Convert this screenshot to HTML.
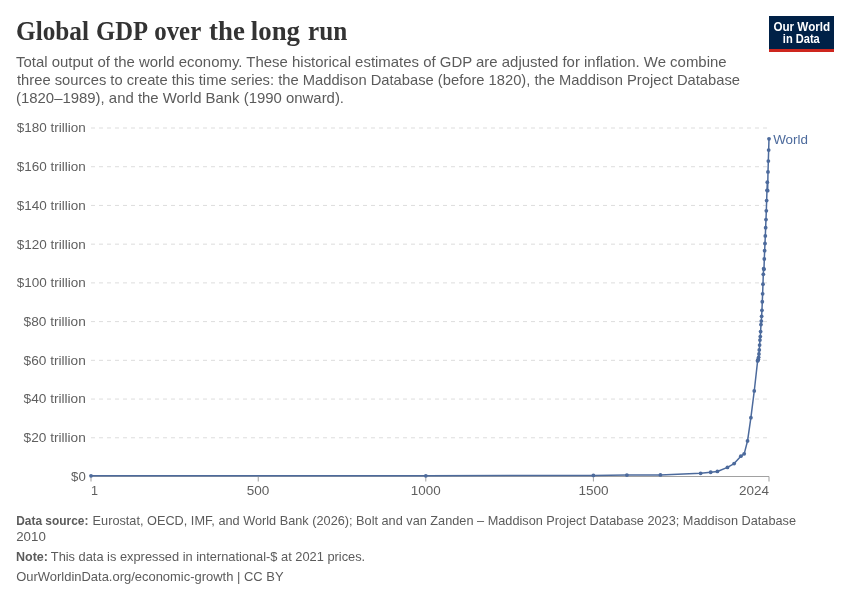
<!DOCTYPE html>
<html><head><meta charset="utf-8">
<style>
html,body{margin:0;padding:0;background:#fff;width:850px;height:600px;overflow:hidden}
svg{position:absolute;left:0;top:0;will-change:transform}
text{font-family:"Liberation Sans",sans-serif}
.title{font-family:"Liberation Serif",serif;font-weight:700;font-size:28px;fill:#333}
.sub{font-size:14.5px;fill:#5b5b5b}
.logo{font-size:12px;font-weight:700;fill:#fff}
.ax{font-size:13.5px;fill:#5f5f5f}
.world{font-size:13.5px;fill:#4c6a9c}
.f{font-size:12.4px;fill:#5b5b5b}
.fb{font-size:12.4px;font-weight:700;fill:#5b5b5b}
</style></head><body>
<svg width="850" height="600" viewBox="0 0 850 600">
<rect width="850" height="600" fill="#fff"/>
<rect x="769" y="16" width="65" height="36" fill="#002147"/>
<rect x="769" y="49" width="65" height="3" fill="#ce261e"/>
<g stroke="#dddddd" stroke-width="1" stroke-dasharray="4,4"><line x1="91" x2="769" y1="437.78" y2="437.78"/><line x1="91" x2="769" y1="399.06" y2="399.06"/><line x1="91" x2="769" y1="360.33" y2="360.33"/><line x1="91" x2="769" y1="321.61" y2="321.61"/><line x1="91" x2="769" y1="282.89" y2="282.89"/><line x1="91" x2="769" y1="244.17" y2="244.17"/><line x1="91" x2="769" y1="205.45" y2="205.45"/><line x1="91" x2="769" y1="166.72" y2="166.72"/><line x1="91" x2="769" y1="128.00" y2="128.00"/></g>
<line x1="91" x2="769" y1="476.5" y2="476.5" stroke="#a1a1a1" stroke-width="1"/>
<g stroke="#a1a1a1" stroke-width="1"><line x1="91.00" x2="91.00" y1="476.5" y2="481.5"/><line x1="258.24" x2="258.24" y1="476.5" y2="481.5"/><line x1="425.81" x2="425.81" y1="476.5" y2="481.5"/><line x1="593.38" x2="593.38" y1="476.5" y2="481.5"/><line x1="769.00" x2="769.00" y1="476.5" y2="481.5"/></g>
<path d="M91.00,475.87 L425.81,475.82 L593.38,475.41 L626.90,475.10 L660.41,474.91 L700.63,473.30 L710.68,472.24 L717.39,471.46 L727.44,467.40 L734.14,463.53 L740.85,456.18 L744.20,453.85 L747.55,440.89 L750.90,417.67 L754.25,390.97 L757.61,360.97 L757.94,360.20 L758.28,359.23 L758.61,357.30 L758.95,354.01 L759.28,349.94 L759.62,345.11 L759.95,340.08 L760.29,336.59 L760.62,331.56 L760.96,324.60 L761.29,321.11 L761.63,316.28 L761.96,310.28 L762.30,301.76 L762.63,293.83 L762.97,284.15 L763.30,274.29 L763.64,268.67 L763.97,269.25 L764.31,259.00 L764.64,250.68 L764.98,243.52 L765.31,235.97 L765.65,227.65 L765.98,219.53 L766.32,210.82 L766.65,200.56 L766.99,190.31 L767.32,182.18 L767.66,190.69 L767.99,171.92 L768.33,161.09 L768.66,150.06 L769.00,138.84" fill="none" stroke="#4c6a9c" stroke-width="1.5" stroke-linejoin="round"/>
<g fill="#4c6a9c"><circle cx="91.00" cy="475.87" r="1.9"/><circle cx="425.81" cy="475.82" r="1.9"/><circle cx="593.38" cy="475.41" r="1.9"/><circle cx="626.90" cy="475.10" r="1.9"/><circle cx="660.41" cy="474.91" r="1.9"/><circle cx="700.63" cy="473.30" r="1.9"/><circle cx="710.68" cy="472.24" r="1.9"/><circle cx="717.39" cy="471.46" r="1.9"/><circle cx="727.44" cy="467.40" r="1.9"/><circle cx="734.14" cy="463.53" r="1.9"/><circle cx="740.85" cy="456.18" r="1.9"/><circle cx="744.20" cy="453.85" r="1.9"/><circle cx="747.55" cy="440.89" r="1.9"/><circle cx="750.90" cy="417.67" r="1.9"/><circle cx="754.25" cy="390.97" r="1.9"/><circle cx="757.61" cy="360.97" r="1.9"/><circle cx="757.94" cy="360.20" r="1.9"/><circle cx="758.28" cy="359.23" r="1.9"/><circle cx="758.61" cy="357.30" r="1.9"/><circle cx="758.95" cy="354.01" r="1.9"/><circle cx="759.28" cy="349.94" r="1.9"/><circle cx="759.62" cy="345.11" r="1.9"/><circle cx="759.95" cy="340.08" r="1.9"/><circle cx="760.29" cy="336.59" r="1.9"/><circle cx="760.62" cy="331.56" r="1.9"/><circle cx="760.96" cy="324.60" r="1.9"/><circle cx="761.29" cy="321.11" r="1.9"/><circle cx="761.63" cy="316.28" r="1.9"/><circle cx="761.96" cy="310.28" r="1.9"/><circle cx="762.30" cy="301.76" r="1.9"/><circle cx="762.63" cy="293.83" r="1.9"/><circle cx="762.97" cy="284.15" r="1.9"/><circle cx="763.30" cy="274.29" r="1.9"/><circle cx="763.64" cy="268.67" r="1.9"/><circle cx="763.97" cy="269.25" r="1.9"/><circle cx="764.31" cy="259.00" r="1.9"/><circle cx="764.64" cy="250.68" r="1.9"/><circle cx="764.98" cy="243.52" r="1.9"/><circle cx="765.31" cy="235.97" r="1.9"/><circle cx="765.65" cy="227.65" r="1.9"/><circle cx="765.98" cy="219.53" r="1.9"/><circle cx="766.32" cy="210.82" r="1.9"/><circle cx="766.65" cy="200.56" r="1.9"/><circle cx="766.99" cy="190.31" r="1.9"/><circle cx="767.32" cy="182.18" r="1.9"/><circle cx="767.66" cy="190.69" r="1.9"/><circle cx="767.99" cy="171.92" r="1.9"/><circle cx="768.33" cy="161.09" r="1.9"/><circle cx="768.66" cy="150.06" r="1.9"/><circle cx="769.00" cy="138.84" r="1.9"/></g>
<text class="title" x="16.00" y="40.4" textLength="73.00" lengthAdjust="spacingAndGlyphs">Global</text>
<text class="title" x="96.00" y="40.4" textLength="52.00" lengthAdjust="spacingAndGlyphs">GDP</text>
<text class="title" x="154.20" y="40.4" textLength="47.00" lengthAdjust="spacingAndGlyphs">over</text>
<text class="title" x="209.00" y="40.4" textLength="35.80" lengthAdjust="spacingAndGlyphs">the</text>
<text class="title" x="250.80" y="40.4" textLength="49.20" lengthAdjust="spacingAndGlyphs">long</text>
<text class="title" x="308.00" y="40.4" textLength="39.20" lengthAdjust="spacingAndGlyphs">run</text>
<text class="sub" x="16.00" y="66.7" textLength="710.60" lengthAdjust="spacingAndGlyphs">Total output of the world economy. These historical estimates of GDP are adjusted for inflation. We combine</text>
<text class="sub" x="17.00" y="84.7" textLength="723.00" lengthAdjust="spacingAndGlyphs">three sources to create this time series: the Maddison Database (before 1820), the Maddison Project Database</text>
<text class="sub" x="16.00" y="102.7" textLength="328.00" lengthAdjust="spacingAndGlyphs">(1820–1989), and the World Bank (1990 onward).</text>
<text class="logo" x="773.40" y="30.5" textLength="56.80" lengthAdjust="spacingAndGlyphs">Our World</text>
<text class="logo" x="782.80" y="42.5" textLength="37.00" lengthAdjust="spacingAndGlyphs">in Data</text>
<text class="ax" x="71.10" y="480.7" textLength="14.70" lengthAdjust="spacingAndGlyphs">$0</text>
<text class="ax" x="23.60" y="442.0" textLength="62.20" lengthAdjust="spacingAndGlyphs">$20 trillion</text>
<text class="ax" x="23.60" y="403.3" textLength="62.20" lengthAdjust="spacingAndGlyphs">$40 trillion</text>
<text class="ax" x="23.60" y="364.6" textLength="62.20" lengthAdjust="spacingAndGlyphs">$60 trillion</text>
<text class="ax" x="23.60" y="325.9" textLength="62.20" lengthAdjust="spacingAndGlyphs">$80 trillion</text>
<text class="ax" x="16.80" y="287.2" textLength="69.00" lengthAdjust="spacingAndGlyphs">$100 trillion</text>
<text class="ax" x="16.80" y="248.5" textLength="69.00" lengthAdjust="spacingAndGlyphs">$120 trillion</text>
<text class="ax" x="16.80" y="209.8" textLength="69.00" lengthAdjust="spacingAndGlyphs">$140 trillion</text>
<text class="ax" x="16.80" y="171.1" textLength="69.00" lengthAdjust="spacingAndGlyphs">$160 trillion</text>
<text class="ax" x="16.80" y="132.4" textLength="69.00" lengthAdjust="spacingAndGlyphs">$180 trillion</text>
<text class="ax" x="91.00" y="494.6" textLength="7.00" lengthAdjust="spacingAndGlyphs">1</text>
<text class="ax" x="246.80" y="494.6" textLength="22.60" lengthAdjust="spacingAndGlyphs">500</text>
<text class="ax" x="410.80" y="494.6" textLength="29.80" lengthAdjust="spacingAndGlyphs">1000</text>
<text class="ax" x="578.40" y="494.6" textLength="30.20" lengthAdjust="spacingAndGlyphs">1500</text>
<text class="ax" x="739.00" y="494.6" textLength="30.00" lengthAdjust="spacingAndGlyphs">2024</text>
<text class="world" x="773.20" y="143.9" textLength="34.80" lengthAdjust="spacingAndGlyphs">World</text>
<text class="fb" x="16.20" y="524.8" textLength="72.20" lengthAdjust="spacingAndGlyphs">Data source:</text>
<text class="f" x="92.60" y="524.8" textLength="703.40" lengthAdjust="spacingAndGlyphs">Eurostat, OECD, IMF, and World Bank (2026); Bolt and van Zanden – Maddison Project Database 2023; Maddison Database</text>
<text class="f" x="16.20" y="541.0" textLength="29.60" lengthAdjust="spacingAndGlyphs">2010</text>
<text class="fb" x="16.00" y="560.8" textLength="32.00" lengthAdjust="spacingAndGlyphs">Note:</text>
<text class="f" x="50.80" y="560.8" textLength="314.40" lengthAdjust="spacingAndGlyphs">This data is expressed in international-$ at 2021 prices.</text>
<text class="f" x="16.20" y="580.8" textLength="267.40" lengthAdjust="spacingAndGlyphs">OurWorldinData.org/economic-growth | CC BY</text>
</svg>
</body></html>
